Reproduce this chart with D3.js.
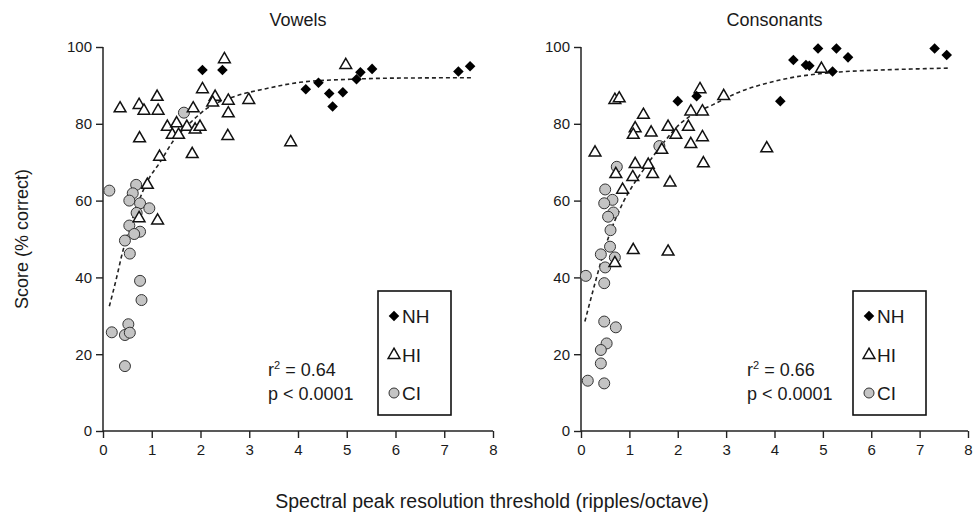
<!DOCTYPE html>
<html lang="en">
<head>
  <meta charset="UTF-8" />
  <title>Score vs spectral peak resolution threshold</title>
  <script src="https://d3js.org/d3.v7.min.js"></script>
  <style>
    body {
      margin: 0;
      background: #fff;
    }
    svg {
      font-family: "Liberation Sans", Arial, sans-serif;
      fill: #1a1a1a;
    }
  </style>
</head>
<body>
  <svg width="974" height="517"></svg>

  <script>
    // values, [threshold, score]
    const vowelsNH = [
      [2.04, 94.0], [2.45, 94.0], [4.16, 89.0], [4.42, 90.7], [4.64, 87.9],
      [4.92, 88.2], [4.71, 84.5], [5.2, 91.6], [5.28, 93.4], [5.52, 94.3],
      [7.29, 93.6], [7.53, 95.0]
    ];
    const vowelsHI = [
      [0.35, 84.0], [0.74, 84.9], [0.84, 83.4], [1.11, 87.0], [1.13, 83.4],
      [0.75, 76.2], [1.16, 71.4], [1.32, 79.2], [1.51, 80.1], [1.42, 77.1],
      [1.55, 77.1], [1.72, 79.2], [1.89, 78.5], [1.99, 79.2], [1.83, 72.1],
      [1.85, 84.0], [2.04, 89.0], [2.3, 87.0], [2.25, 85.5], [2.57, 86.0],
      [2.57, 82.7], [2.56, 76.8], [2.99, 86.2], [2.49, 96.8], [0.91, 64.1],
      [0.74, 55.4], [1.12, 54.8], [3.85, 75.2], [4.98, 95.3]
    ];
    const vowelsCI = [
      [0.13, 62.6], [1.66, 82.9], [0.68, 64.1], [0.61, 61.9], [0.54, 60.0],
      [0.76, 59.3], [0.95, 58.0], [0.69, 56.8], [0.54, 53.5], [0.76, 51.9],
      [0.64, 51.3], [0.45, 49.6], [0.55, 46.2], [0.76, 39.1], [0.79, 34.1],
      [0.18, 25.7], [0.52, 27.8], [0.45, 25.0], [0.55, 25.6], [0.45, 16.9]
    ];
    const vowelsFit = [
      [0.13, 32.5], [0.28, 40.0], [0.38, 45.5], [0.6, 55.0], [0.91, 65.0],
      [1.17, 70.0], [1.44, 75.5], [1.85, 81.0], [2.13, 84.0], [2.67, 87.0],
      [3.36, 89.2], [4.04, 90.8], [5.07, 91.6], [6.0, 91.9], [7.6, 92.0]
    ];

    const consonantsNH = [
      [2.0, 85.9], [2.39, 87.2], [4.12, 85.9], [4.39, 96.6], [4.65, 95.3],
      [4.72, 95.1], [4.9, 99.6], [5.28, 99.6], [5.52, 97.3], [5.2, 93.6],
      [7.31, 99.6], [7.56, 97.9]
    ];
    const consonantsHI = [
      [0.29, 72.5], [0.7, 86.2], [0.79, 86.6], [1.29, 82.3], [1.12, 78.8],
      [1.08, 77.1], [1.45, 77.7], [1.8, 79.2], [1.96, 77.1], [2.22, 79.2],
      [2.27, 83.2], [2.51, 83.2], [2.46, 89.0], [2.95, 87.2], [2.51, 76.5],
      [2.27, 74.7], [2.53, 69.7], [1.67, 73.2], [1.12, 69.5], [1.39, 69.3],
      [1.48, 66.9], [1.07, 66.1], [0.72, 66.9], [1.84, 64.7], [0.86, 62.8],
      [3.84, 73.6], [4.97, 94.3], [1.08, 47.1], [1.8, 46.7], [0.7, 43.7]
    ];
    const consonantsCI = [
      [1.62, 74.2], [0.74, 68.8], [0.5, 62.9], [0.65, 60.2], [0.48, 59.3],
      [0.67, 56.9], [0.56, 55.8], [0.61, 52.3], [0.6, 48.0], [0.41, 46.0],
      [0.7, 45.2], [0.5, 42.6], [0.1, 40.4], [0.48, 38.5], [0.48, 28.5],
      [0.72, 27.0], [0.53, 22.8], [0.41, 21.1], [0.41, 17.6], [0.14, 13.1],
      [0.48, 12.4]
    ];
    const consonantsFit = [
      [0.08, 28.5], [0.29, 38.5], [0.53, 49.0], [0.87, 59.5], [1.05, 63.5],
      [1.29, 68.0], [1.7, 75.0], [2.05, 80.0], [2.39, 83.0], [2.73, 85.0],
      [3.22, 88.0], [4.11, 91.4], [5.35, 93.5], [6.2, 94.0], [7.6, 94.5]
    ];

    const xTicks = [0, 1, 2, 3, 4, 5, 6, 7, 8];
    const yTicks = [0, 20, 40, 60, 80, 100];
    const legendLabels = ["NH", "HI", "CI"];

    const panels = [
      { title: "Vowels", nh: vowelsNH, hi: vowelsHI, ci: vowelsCI, fit: vowelsFit, r2: "0.64", left: 103, right: 493 },
      { title: "Consonants", nh: consonantsNH, hi: consonantsHI, ci: consonantsCI, fit: consonantsFit, r2: "0.66", left: 581, right: 968 }
    ];

    const svg = d3.select("svg");
    const plotTop = 47, plotBottom = 431;

    // square turned 45 degrees, so both diagonals are equal
    const diamond = d3.symbol().type(d3.symbolSquare).size(56);
    const triangle = d3.symbol().type(d3.symbolTriangle).size(60);

    panels.forEach(p => {
      const x = d3.scaleLinear().domain([0, 8]).range([p.left, p.right]);
      const y = d3.scaleLinear().domain([0, 100]).range([plotBottom, plotTop]);
      const g = svg.append("g");

      // title
      g.append("text")
        .attr("x", (p.left + p.right) / 2)
        .attr("y", 26)
        .attr("text-anchor", "middle")
        .style("font-size", "18px")
        .text(p.title);

      // axes
      const xAxis = g.append("g").attr("transform", `translate(0,${plotBottom})`);
      xAxis.call(d3.axisBottom(x).tickValues(d3.range(0, 8.01, 0.5)).tickSize(4).tickFormat(""));
      xAxis.call(d3.axisBottom(x).tickValues(xTicks).tickSize(7).tickPadding(6).tickFormat(d3.format("d")));
      const yAxis = g.append("g").attr("transform", `translate(${p.left},0)`);
      yAxis.call(d3.axisLeft(y).tickValues(d3.range(10, 100, 20)).tickSize(4).tickFormat(""));
      yAxis.call(d3.axisLeft(y).tickValues(yTicks).tickSize(7).tickPadding(4).tickFormat(d3.format("d")));
      g.selectAll(".domain").attr("stroke", "#222").attr("stroke-width", 1.5);
      g.selectAll(".tick line").attr("stroke", "#222").attr("stroke-width", 1.4);
      g.selectAll(".tick text").style("font-size", "15px").attr("fill", "#1a1a1a");
      xAxis.selectAll(".domain").attr("d", `M${p.left},0H${p.right}`);
      yAxis.selectAll(".domain").attr("d", `M0,${plotBottom}V${plotTop}`);

      // fit curve
      g.append("path")
        .datum(p.fit)
        .attr("fill", "none")
        .attr("stroke", "#222")
        .attr("stroke-width", 1.6)
        .attr("stroke-dasharray", "4,3")
        .attr("d", d3.line().x(d => x(d[0])).y(d => y(d[1])).curve(d3.curveMonotoneX));

      // points
      g.selectAll("circle.ci")
        .data(p.ci)
        .join("circle")
        .attr("class", "ci")
        .attr("cx", d => x(d[0]))
        .attr("cy", d => y(d[1]))
        .attr("r", 5.5)
        .attr("fill", "#c4c4c4")
        .attr("stroke", "#333")
        .attr("stroke-width", 1);

      g.selectAll("path.hi")
        .data(p.hi)
        .join("path")
        .attr("class", "hi")
        .attr("d", triangle)
        .attr("transform", d => `translate(${x(d[0])},${y(d[1])})`)
        .attr("fill", "#fff")
        .attr("stroke", "#111")
        .attr("stroke-width", 1.5);

      g.selectAll("path.nh")
        .data(p.nh)
        .join("path")
        .attr("class", "nh")
        .attr("d", diamond)
        .attr("transform", d => `translate(${x(d[0])},${y(d[1])}) rotate(45)`)
        .attr("fill", "#000");

      // stats
      const sx = p.left + (p.title === "Vowels" ? 165 : 166);
      const st = g.append("text").attr("x", sx).attr("y", 376).style("font-size", "18px");
      st.append("tspan").text("r");
      st.append("tspan").attr("dy", -7).style("font-size", "11px").text("2");
      st.append("tspan").attr("dy", 7).text(" = " + p.r2);
      g.append("text").attr("x", sx).attr("y", 400).style("font-size", "18px").text("p < 0.0001");

      // legend
      const lx = p.left + (p.title === "Vowels" ? 275 : 272);
      const lg = g.append("g").attr("transform", `translate(${lx},291)`);
      lg.append("rect").attr("width", 73).attr("height", 124)
        .attr("fill", "#fff").attr("stroke", "#111").attr("stroke-width", 1.6);
      const rows = [25, 64, 102];
      lg.append("path").attr("d", diamond).attr("transform", `translate(16,${rows[0]}) rotate(45)`).attr("fill", "#000");
      lg.append("path").attr("d", triangle).attr("transform", `translate(16,${rows[1]})`)
        .attr("fill", "#fff").attr("stroke", "#111").attr("stroke-width", 1.5);
      lg.append("circle").attr("cx", 16).attr("cy", rows[2]).attr("r", 5)
        .attr("fill", "#c4c4c4").attr("stroke", "#333");
      lg.selectAll("text.lab")
        .data(legendLabels)
        .join("text")
        .attr("class", "lab")
        .attr("x", 24)
        .attr("y", (d, i) => rows[i] + 7)
        .style("font-size", "19px")
        .text(d => d);
    });

    svg.append("text")
      .attr("x", 492)
      .attr("y", 508)
      .attr("text-anchor", "middle")
      .style("font-size", "19.5px")
      .text("Spectral peak resolution threshold (ripples/octave)");

    svg.append("text")
      .attr("transform", "translate(28,239) rotate(-90)")
      .attr("text-anchor", "middle")
      .style("font-size", "18px")
      .text("Score (% correct)");
  </script>
</body>
</html>
